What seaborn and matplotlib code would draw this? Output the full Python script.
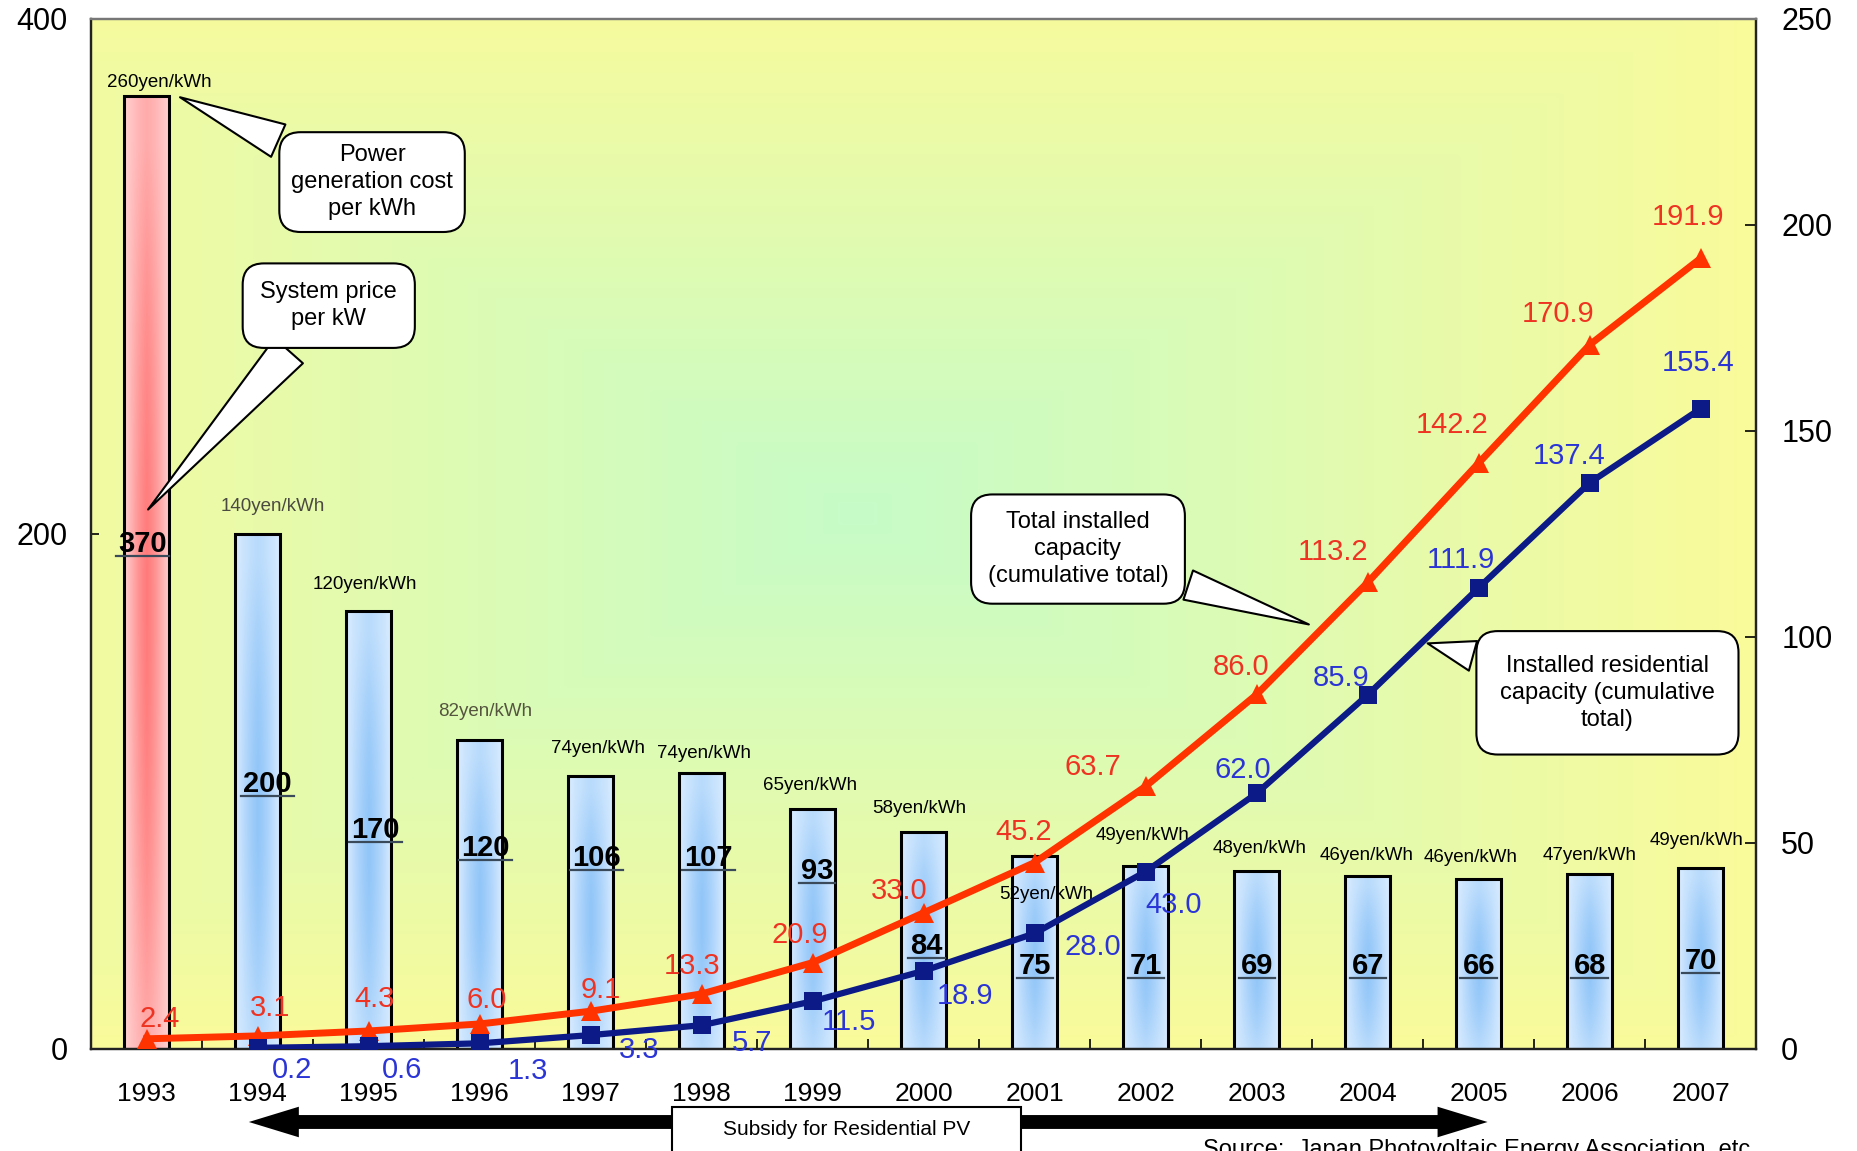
"""Japan residential PV: system price, generation cost and installed capacity, 1993-2007."""

import matplotlib

matplotlib.use("Agg")

import matplotlib.pyplot as plt
import numpy as np
import pandas as pd
import seaborn as sns
from matplotlib import transforms
from matplotlib.colors import to_rgb
from matplotlib.lines import Line2D
from matplotlib.patches import FancyArrowPatch, Rectangle

# ---- data -------------------------------------------------------------
years = [str(y) for y in range(1993, 2008)]
system_price = [370, 200, 170, 120, 106, 107, 93, 84, 75, 71, 69, 67, 66, 68, 70]
generation_cost = [260, 140, 120, 82, 74, 74, 65, 58, 52, 49, 48, 46, 46, 47, 49]
total_capacity = [2.4, 3.1, 4.3, 6.0, 9.1, 13.3, 20.9, 33.0, 45.2, 63.7,
                  86.0, 113.2, 142.2, 170.9, 191.9]
residential_years = years[1:]
residential_capacity = [0.2, 0.6, 1.3, 3.3, 5.7, 11.5, 18.9, 28.0, 43.0, 62.0,
                        85.9, 111.9, 137.4, 155.4]

# ---- label layout (offsets in points) ---------------------------------
price_label_y = [196, 103, 85, 78, 74, 74, 69, 40, 32, 32, 32, 32, 32, 32, 34]
price_label_dx = [-3, 7, 5, 4, 4, 5, 3, 2, 0, 0, 0, 0, 0, 0, 0]
cost_offsets = [(9, 10), (11, 20), (-3, 19), (4, 20), (5, 20), (2, 14), (-2, 17), (-3, 17),
                (8, -28), (-2, 22), (2, 16), (-1, 15), (-6, 15), (0, 13), (-3, 20)]
cost_colors = ["black", "#4a4a40", "black", "#55553f"] + ["black"] * 11
total_offsets = [(9, 14), (9, 20), (4, 23), (5, 17), (7, 15), (-7, 20), (-9, 20), (-18, 16),
                 (-8, 22), (-38, 14), (-11, 20), (-25, 22), (-19, 27), (-23, 22), (-9, 30)]
resid_offsets = [(25, -16), (24, -17), (35, -20), (35, -11), (36, -13), (26, -15), (30, -18),
                 (42, -10), (20, -24), (-10, 17), (-19, 12), (-13, 20), (-15, 19), (-2, 33)]

RED = "#ff3300"
RED_TEXT = "#ee3322"
NAVY = "#0b1a86"
BLUE_TEXT = "#2b35d6"

plt.rcParams["font.family"] = ["Liberation Sans", "DejaVu Sans"]


def _mix(c1, c2, w):
    a, b = np.array(to_rgb(c1)), np.array(to_rgb(c2))
    return a[None, None, :] * (1 - w[..., None]) + b[None, None, :] * w[..., None]


def _bar_gradient(edge, center):
    u = np.linspace(0, 1, 40)
    v = np.linspace(0, 1, 120)
    U, V = np.meshgrid(u, v)
    across = np.clip(1 - np.abs(2 * U - 1) ** 1.3, 0, 1)
    along = 0.45 + 0.55 * np.sin(np.pi * np.clip(V * 1.05, 0, 1))
    return _mix(edge, center, across * along)


fig = plt.figure(figsize=(18.58, 11.51), dpi=100)
ax = fig.add_axes([0.0491, 0.0889, 0.8961, 0.8946])

# bars: system price per kW
bars_df = pd.DataFrame({"year": years, "price": system_price})
sns.barplot(data=bars_df, x="year", y="price", ax=ax, width=0.41, color="#cfe6ff",
            edgecolor="black", linewidth=2.2, errorbar=None)
bars = list(ax.patches)

# background: rectangular yellow-to-green gradient
u = np.linspace(0, 1, 400)
v = np.linspace(0, 1, 250)
U, V = np.meshgrid(u, v)
dist = np.maximum(np.abs(U - 0.46) / 0.54, np.abs(V - 0.52) / 0.52)
ax.imshow(_mix("#fafa9a", "#c6fcc8", np.clip(1 - dist, 0, 1) ** 1.0),
          extent=(-0.5, 14.5, 0, 400), origin="lower", aspect="auto", zorder=0,
          interpolation="bilinear")

for i, bar in enumerate(bars):
    x0, w, h = bar.get_x(), bar.get_width(), bar.get_height()
    grad = _bar_gradient("#ffd2d2", "#ff7b7b") if i == 0 else _bar_gradient("#d9ecff", "#92c6f8")
    ax.imshow(grad, extent=(x0, x0 + w, 0, h), origin="lower", aspect="auto",
              zorder=1.5, interpolation="bilinear")
    bar.set_facecolor("none")
    bar.set_zorder(2)

price_texts = []
for i, (val, ly, dx) in enumerate(zip(system_price, price_label_y, price_label_dx)):
    t = ax.annotate(str(val), xy=(i, ly), xytext=(dx, 0), textcoords="offset points",
                    ha="center", va="center", fontsize=21, fontweight="bold", zorder=4)
    price_texts.append(t)

for i, (cost, top, off, col) in enumerate(zip(generation_cost, system_price, cost_offsets, cost_colors)):
    ax.annotate(f"{cost}yen/kWh", xy=(i, top), xytext=off, textcoords="offset points",
                ha="center", va="center", fontsize=13.5, color=col, zorder=4)

ax.set_xlim(-0.5, 14.5)
ax.set_ylim(0, 400)
ax.set_yticks([0, 200, 400])
ax.set_xlabel("")
ax.set_ylabel("")
ax.set_xticks(np.arange(0.5, 14), minor=True)
ax.tick_params(axis="x", which="major", length=0, labelsize=19, pad=24)
ax.tick_params(axis="x", which="minor", direction="in", length=7, width=1.2)
ax.tick_params(axis="y", direction="in", length=6, width=1.2, labelsize=22, pad=17)

# lines: installed capacity (right axis)
ax2 = ax.twinx()
total_df = pd.DataFrame({"pos": np.arange(len(years)), "capacity": total_capacity})
resid_df = pd.DataFrame({"pos": np.arange(1, len(years)), "capacity": residential_capacity})
sns.lineplot(data=total_df, x="pos", y="capacity", ax=ax2, color=RED, linewidth=5,
             marker="^", markersize=15, markeredgewidth=0, zorder=3)
sns.lineplot(data=resid_df, x="pos", y="capacity", ax=ax2, color=NAVY, linewidth=4.5,
             marker="s", markersize=13, markeredgewidth=0, zorder=3)

for i, (val, off) in enumerate(zip(total_capacity, total_offsets)):
    ax2.annotate(f"{val:.1f}", xy=(i, val), xytext=off, textcoords="offset points",
                 ha="center", va="center", fontsize=21, color=RED_TEXT, zorder=5)
for i, (val, off) in enumerate(zip(residential_capacity, resid_offsets), start=1):
    ax2.annotate(f"{val:.1f}", xy=(i, val), xytext=off, textcoords="offset points",
                 ha="center", va="center", fontsize=21, color=BLUE_TEXT, zorder=5)

ax2.set_ylim(0, 250)
ax2.set_yticks(np.arange(0, 251, 50))
ax2.set_ylabel("")
ax2.tick_params(axis="y", direction="in", length=8, width=1.2, labelsize=22, pad=18)
ax.set_xlim(-0.5, 14.5)

for a in (ax, ax2):
    for side, spine in a.spines.items():
        spine.set_color("#222222" if side != "top" else "#777777")
        spine.set_linewidth(1.6)


# callouts
def callout(text, tip, box, pad, tail=1.3):
    ax2.annotate(
        text, xy=tip, xytext=box, ha="center", va="center", fontsize=17,
        linespacing=1.3, zorder=6,
        bbox=dict(boxstyle=f"round,pad={pad},rounding_size=0.9", fc="white", ec="black", lw=1.5),
        arrowprops=dict(arrowstyle=f"wedge,tail_width={tail},shrink_factor=0.5",
                        fc="white", ec="black", lw=1.5, shrinkB=0),
    )


callout("Power\ngeneration cost\nper kWh", (0.30, 231.0), (2.03, 210.4), 0.5, tail=1.5)
callout("System price\nper kW", (0.012, 130.9), (1.64, 180.4), 0.75, tail=1.6)
callout("Total installed\ncapacity\n(cumulative total)", (10.47, 103.0), (8.39, 121.3), 0.7)
callout("Installed residential\ncapacity (cumulative\ntotal)", (11.54, 98.4), (13.16, 86.4), 1.0)

# subsidy arrow along the bottom
blend = transforms.blended_transform_factory(ax.transData, fig.transFigure)
for tip in (0.92, 12.08):
    fig.add_artist(FancyArrowPatch(
        (6.0, 0.0252), (tip, 0.0252), transform=blend, mutation_scale=10,
        arrowstyle="simple,head_length=3.6,head_width=2.2,tail_width=1.0",
        color="black", lw=0, shrinkA=0, shrinkB=0))
fig.add_artist(Rectangle((0.3617, -0.05), 0.1878, 0.0882, transform=fig.transFigure,
                         fc="white", ec="black", lw=1.5, zorder=5))
fig.text(0.4555, 0.0191, "Subsidy for Residential PV", ha="center", va="center",
         fontsize=15, zorder=6)
fig.text(0.6474, 0.0104, "Source:  Japan Photovoltaic Energy Association, etc.",
         ha="left", va="top", fontsize=17)

# underline the system price values
fig.canvas.draw()
for t in price_texts:
    bb = t.get_window_extent()
    fig.add_artist(Line2D([bb.x0 - 2, bb.x1 + 2], [bb.y0 + 2, bb.y0 + 2],
                          transform=transforms.IdentityTransform(),
                          color="#3a4a5a", lw=1.6, zorder=5))

fig.savefig("out.png", dpi=100)
